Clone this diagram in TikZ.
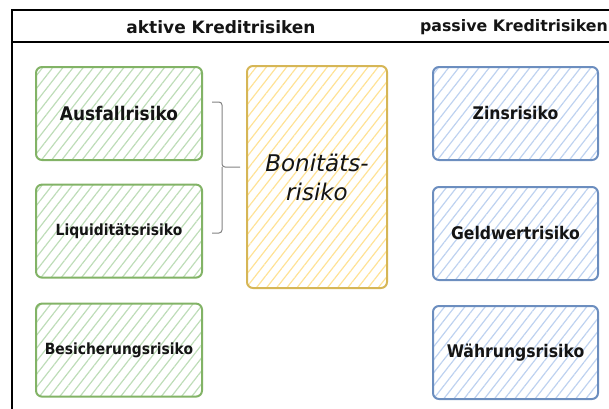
\documentclass[tikz,border=0pt]{standalone}
\usepackage{fontspec}
\setmainfont{DejaVu Sans}
\newfontfamily\boxfont[FakeStretch=0.9]{DejaVu Sans}
\usetikzlibrary{positioning, patterns.meta}
\definecolor{riskgreen}{RGB}{130, 179, 102}
\definecolor{riskgreenfill}{RGB}{190, 221, 184}
\definecolor{riskyellow}{RGB}{214, 182, 86}
\definecolor{riskyellowfill}{RGB}{255, 226, 150}
\definecolor{riskblue}{RGB}{108, 142, 191}
\definecolor{riskbluefill}{RGB}{190, 210, 240}
\definecolor{bracketgray}{RGB}{130, 130, 130}
\definecolor{textdark}{RGB}{20, 20, 20}

\begin{document}
\begin{tikzpicture}[x=1pt, y=-1pt,
        riskbox/.style={rectangle, rounded corners=6pt, line width=2pt, minimum width=166pt, minimum height=93pt, align=center, text=textdark, pattern={Lines[angle=52, distance=8pt, line width=1.2pt]}},
        greenbox/.style={riskbox, draw=riskgreen, pattern color=riskgreenfill},
        bluebox/.style={riskbox, draw=riskblue, pattern color=riskbluefill, minimum width=165pt},
        yellowbox/.style={riskbox, draw=riskyellow, pattern color=riskyellowfill, minimum width=140pt, minimum height=222pt},
        bigtext/.style={font=\boxfont\bfseries\fontsize{17.4}{20}\selectfont},
        smalltext/.style={font=\boxfont\bfseries\fontsize{15.4}{18}\selectfont},
        head/.style={text=textdark},
        frameline/.style={draw=black, line width=1.6pt},
        bracket/.style={draw=bracketgray, line width=1pt, rounded corners=3pt}
    ]
        \useasboundingbox (0,0) rectangle (609,408);
        \clip (0,0) rectangle (609,408);

        \draw[frameline] (12,420) -- (12,10) -- (620,10);
        \draw[frameline] (12,42) -- (620,42);
        \node[head, font=\bfseries\fontsize{17}{20}\selectfont] (aktiv) at (221,27) {aktive Kreditrisiken};
        \node[head, font=\bfseries\fontsize{15.8}{18}\selectfont] (passiv) at (514,27) {passive Kreditrisiken};

        \node[greenbox, font=\boxfont\bfseries\fontsize{18.8}{22}\selectfont] (ausfall) at (119,113.5) {Ausfallrisiko};
        \node[greenbox, smalltext, below=23pt of ausfall] (liquid) {Liquiditätsrisiko};
        \node[greenbox, smalltext, below=24pt of liquid] (besich) {Besicherungsrisiko};

        \node[yellowbox, font=\itshape\fontsize{23}{29}\selectfont, text=textdark] (bonitaet) at (317,177) {Bonitäts-\\risiko};

        \node[bluebox, bigtext] (zins) at (515.5,113.5) {Zinsrisiko};
        \node[bluebox, bigtext, below=25pt of zins] (geld) {Geldwertrisiko};
        \node[bluebox, bigtext, below=24pt of geld] (waehrung) {Währungsrisiko};

        \coordinate (brtop) at (212,102);
        \coordinate (brbot) at (212,233);
        \coordinate (brtip) at (240,167);
        \draw[bracket] (brtop) -- (222,102) -- (222,167) -- (brtip);
        \draw[bracket] (brbot) -- (222,233) -- (222,167);
    \end{tikzpicture}
\end{document}
